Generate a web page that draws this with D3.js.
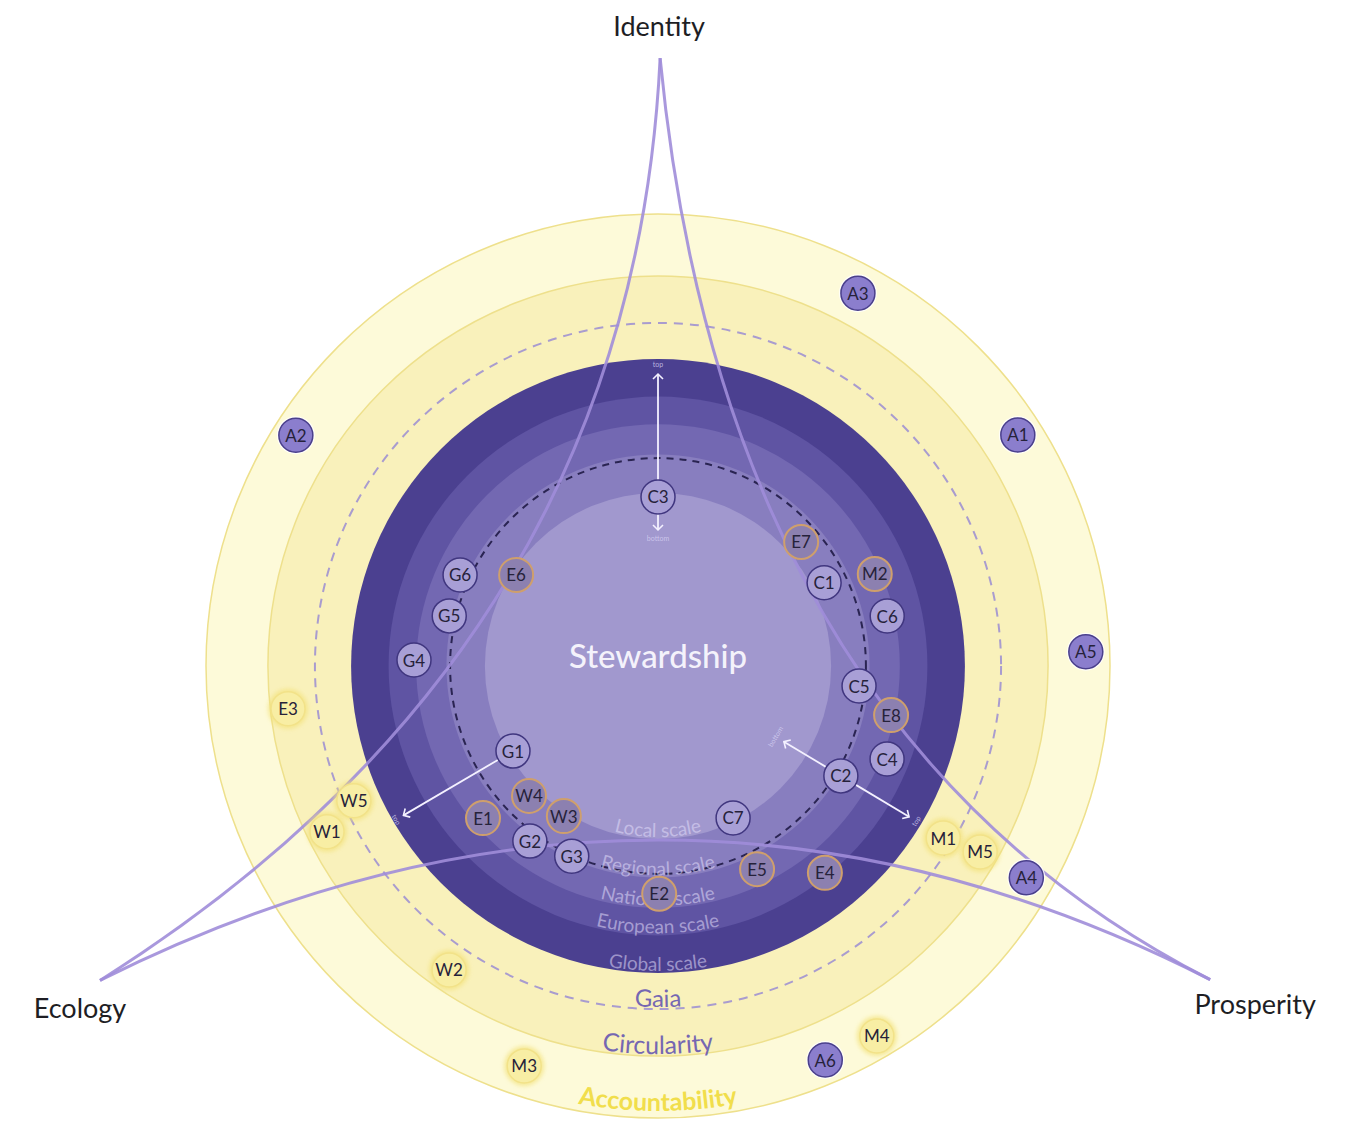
<!DOCTYPE html>
<html>
<head>
<meta charset="utf-8">
<script src="https://cdn.jsdelivr.net/npm/d3@7"></script>
<style>
  body { margin: 0; background: #fff; }
  svg { display: block; font-family: Lato, "Noto Sans", sans-serif; }
</style>
</head>
<body>
<script>
// Figure size and centre of the rings
const width = 1365,
    height = 1122,
    cx = 658,
    cy = 666,
    outerRadius = 452;

// Purple scale rings, outer edge of each in % of the outer radius
const scaleRings = ["Local scale", "Regional scale", "National scale", "European scale", "Global scale"];
const scaleEdges = [38.3, 46.8, 53.5, 59.6, 67.9];

// Yellow rings
const yellowRings = ["Gaia", "Circularity", "Accountability"];
const yellowEdges = [75.9, 86.3, 100];

// black dashed circle inside the disc
const innerDashed = 46.0;

// Nodes: angle in degrees clockwise from the top, radius in % of the outer radius
const nodeIds = ["A1", "A2", "A3", "A4", "A5", "A6",
    "E3", "W5", "W1", "W2", "M3", "M4", "M1", "M5",
    "C3", "G6", "G5", "G4", "G1", "G2", "G3", "C1", "C6", "C5", "C4", "C2", "C7",
    "E6", "E7", "M2", "E8", "W4", "W3", "E1", "E2", "E5", "E4"];
const nodeAngles = [57.3, 302.5, 28.2, 119.9, 88.1, 157.0,
    263.4, 246.1, 243.4, 214.5, 198.5, 149.4, 121.1, 120.0,
    0, 294.7, 283.5, 271.4, 239.6, 216.2, 204.4, 63.4, 77.7, 95.7, 112.1, 121.0, 153.7,
    302.7, 49.1, 67.0, 101.9, 224.8, 212.1, 229.0, 179.7, 154.0, 141.1];
const nodeRadii = [94.6, 95.0, 93.6, 94.0, 94.7, 94.7,
    82.4, 73.6, 81.9, 81.6, 93.3, 95.1, 73.7, 82.3,
    37.4, 48.2, 47.5, 54.0, 37.2, 48.0, 46.2, 41.1, 51.9, 44.7, 54.7, 47.2, 37.5,
    37.3, 41.9, 52.1, 52.7, 40.5, 39.2, 51.3, 50.4, 50.0, 58.8];
const nodeKinds = ["solid", "solid", "solid", "solid", "solid", "solid",
    "yellow", "yellow", "yellow", "yellow", "yellow", "yellow", "yellow", "yellow",
    "ring", "ring", "ring", "ring", "ring", "ring", "ring", "ring", "ring", "ring", "ring", "ring", "ring",
    "tan", "tan", "tan", "tan", "tan", "tan", "tan", "tan", "tan", "tan"];

// top / bottom arrows
const arrowNodes = ["C3", "G1", "C2"];
const arrowTop = [64.6, 65.3, 64.8];
const arrowBottom = [30.1, null, 32.5];

// The three pillars (cusps) and the waist of the curve joining each to the next one
const pillars = ["Identity", "Prosperity", "Ecology"];
const pillarAngles = [0.2, 119.6, 240.6];
const pillarRadii = [134.5, 140.5, 141.7];
const waistAngles = [76.6, 180, 298.9];
const waistRadii = [39.1, 38.5, 38.4];

// colours
const scaleFills = ["#a198ce", "#887ebf", "#7368b2", "#5f54a3", "#4b4090"];
const yellowFills = ["#f9f1bb", "#f9f1bb", "#fdfad9"];

let svg = d3.select("body").append("svg")
    .attr("width", width)
    .attr("height", height);

let defs = svg.append("defs");

defs.append("filter").attr("id", "glow")
    .attr("x", "-50%").attr("y", "-50%").attr("width", "200%").attr("height", "200%")
    .append("feGaussianBlur").attr("stdDeviation", 2);

defs.append("marker")
    .attr("id", "chev")
    .attr("viewBox", "-6 -6 12 12")
    .attr("markerWidth", 12)
    .attr("markerHeight", 12)
    .attr("markerUnits", "userSpaceOnUse")
    .attr("refX", 0)
    .attr("refY", 0)
    .attr("orient", "auto")
    .append("path")
    .attr("d", "M-5,-5 L0,0 L-5,5")
    .attr("fill", "none")
    .attr("stroke", "#f4f1ff")
    .attr("stroke-width", 1.6);

const r = d3.scaleLinear().domain([0, 100]).range([0, outerRadius]);
const ang = d3.scaleLinear().domain([0, 360]).range([0, 2 * Math.PI]);
const pos = (a, rad) => d3.pointRadial(ang(a), r(rad));

let plot = svg.append("g").attr("transform", "translate(" + cx + "," + cy + ")");

// Yellow rings, outermost first
let yellow = yellowRings.map((name, i) => ({name: name, edge: yellowEdges[i], fill: yellowFills[i]}));
plot.selectAll("circle.yring")
    .data(yellow.slice().reverse())
    .enter().append("circle")
    .attr("class", "yring")
    .attr("r", d => r(d.edge))
    .attr("fill", d => d.fill)
    .attr("stroke", d => d.name == "Gaia" ? "none" : "#eee08c")
    .attr("stroke-width", 1.5);

// Gaia dashed edge
plot.append("circle")
    .attr("r", r(yellowEdges[0]))
    .attr("fill", "none")
    .attr("stroke", "#a99ccf")
    .attr("stroke-width", 2)
    .attr("stroke-dasharray", "9 7");

// Purple scale rings
let scales = scaleRings.map((name, i) => ({name: name, edge: scaleEdges[i], fill: scaleFills[i]}));
plot.selectAll("circle.sring")
    .data(scales.slice().reverse())
    .enter().append("circle")
    .attr("class", "sring")
    .attr("r", d => r(d.edge))
    .attr("fill", d => d.fill);

plot.append("circle")
    .attr("r", r(innerDashed))
    .attr("fill", "none")
    .attr("stroke", "#2a2452")
    .attr("stroke-width", 2)
    .attr("stroke-dasharray", "7 6");

// Curved labels along the bottom of each ring
let labels = scales.map(d => ({name: d.name, edge: d.edge, size: 19, color: "rgba(226,221,250,0.55)", weight: 400}))
    .concat([
        {name: yellowRings[0], edge: yellowEdges[0], size: 24, color: "#7567b2", weight: 400},
        {name: yellowRings[1], edge: yellowEdges[1], size: 25, color: "#7567b2", weight: 400},
        {name: yellowRings[2], edge: yellowEdges[2], size: 25, color: "#f1de4c", weight: 700}
    ]);

function bottomArc(rad) {
    let s = 0.75;
    let x0 = -rad * Math.sin(s), y0 = rad * Math.cos(s);
    return "M" + x0 + "," + y0 + " A" + rad + "," + rad + " 0 0 0 " + (-x0) + "," + y0;
}

labels.forEach((d, i) => {
    defs.append("path")
        .attr("id", "lab" + i)
        .attr("d", bottomArc(r(d.edge) - (i == 7 ? 7 : 2)));
    plot.append("text")
        .attr("font-size", d.size)
        .attr("font-weight", d.weight)
        .attr("fill", d.color)
        .append("textPath")
        .attr("href", "#lab" + i)
        .attr("startOffset", "50%")
        .attr("text-anchor", "middle")
        .text(d.name);
});

plot.append("text")
    .attr("y", -6)
    .attr("text-anchor", "middle")
    .attr("dominant-baseline", "middle")
    .attr("font-size", 33)
    .attr("font-weight", 500)
    .attr("fill", "#f4f2fb")
    .text("Stewardship");

// The three pillar curves
let cusps = pillars.map((p, i) => pos(pillarAngles[i], pillarRadii[i]));
cusps.forEach((A, i) => {
    let B = cusps[(i + 1) % 3];
    let M = pos(waistAngles[i], waistRadii[i]);
    let C = [2 * M[0] - (A[0] + B[0]) / 2, 2 * M[1] - (A[1] + B[1]) / 2];
    let p = d3.path();
    p.moveTo(A[0], A[1]);
    p.quadraticCurveTo(C[0], C[1], B[0], B[1]);
    plot.append("path")
        .attr("d", p.toString())
        .attr("fill", "none")
        .attr("stroke", "#a08dd9")
        .attr("stroke-opacity", 0.9)
        .attr("stroke-width", 3);
});

let pillarOffsets = [[-1, -22], [45, 34], [-20, 38]];
plot.selectAll("text.pillar")
    .data(pillars).enter().append("text")
    .attr("class", "pillar")
    .attr("x", (d, i) => cusps[i][0] + pillarOffsets[i][0])
    .attr("y", (d, i) => cusps[i][1] + pillarOffsets[i][1])
    .attr("text-anchor", "middle")
    .attr("font-size", 27)
    .attr("fill", "#1e1e24")
    .text(d => d);

// Nodes
let nodes = nodeIds.map((id, i) => ({id: id, angle: nodeAngles[i], radius: nodeRadii[i], kind: nodeKinds[i]}));
const nodeR = 17;

// Arrows
arrowNodes.forEach((id, i) => {
    let n = nodes.find(d => d.id == id);
    let rot = (n.angle <= 90 || n.angle >= 270) ? n.angle : n.angle - 180;
    let ends = [[arrowTop[i], 9, "top"], [arrowBottom[i], -9, "bottom"]];
    ends.forEach(e => {
        if (e[0] == null) return;
        let dir = e[1] > 0 ? 1 : -1;
        let p0 = d3.pointRadial(ang(n.angle), r(n.radius) + dir * nodeR);
        let p1 = d3.pointRadial(ang(n.angle), r(e[0]));
        plot.append("line")
            .attr("x1", p0[0]).attr("y1", p0[1])
            .attr("x2", p1[0]).attr("y2", p1[1])
            .attr("stroke", "#f4f1ff")
            .attr("stroke-width", 1.8)
            .attr("marker-end", "url(#chev)");
        let pl = d3.pointRadial(ang(n.angle), r(e[0]) + e[1]);
        plot.append("text")
            .attr("transform", "translate(" + pl[0] + "," + pl[1] + ") rotate(" + rot + ")")
            .attr("text-anchor", "middle")
            .attr("dominant-baseline", "middle")
            .attr("font-size", 7)
            .attr("fill", "#d6d0f2")
            .attr("fill-opacity", 0.8)
            .text(e[2]);
    });
});

const kindFill = {solid: "#8b7ecd", yellow: "#f8eea4", ring: "#a89fd6", tan: "#8c80b0"};
const kindStroke = {solid: "#4a3f8c", yellow: "#f2e289", ring: "#40367f", tan: "#cf9f6c"};

let node = plot.selectAll("g.node")
    .data(nodes).enter().append("g")
    .attr("class", "node")
    .attr("transform", d => "translate(" + pos(d.angle, d.radius) + ")");

node.filter(d => d.kind == "yellow").append("circle")
    .attr("r", nodeR + 3)
    .attr("fill", "#f3e27a")
    .attr("opacity", 0.7)
    .attr("filter", "url(#glow)");

node.filter(d => d.kind == "solid").append("circle")
    .attr("r", nodeR + 2)
    .attr("fill", "#ffffff")
    .attr("opacity", 0.8);

node.append("circle")
    .attr("r", nodeR)
    .attr("fill", d => kindFill[d.kind])
    .attr("stroke", d => kindStroke[d.kind])
    .attr("stroke-width", d => d.kind == "tan" ? 2 : 1.5);

node.append("text")
    .attr("text-anchor", "middle")
    .attr("dominant-baseline", "central")
    .attr("font-size", 17)
    .attr("fill", "#26223a")
    .text(d => d.id);
</script>
</body>
</html>
